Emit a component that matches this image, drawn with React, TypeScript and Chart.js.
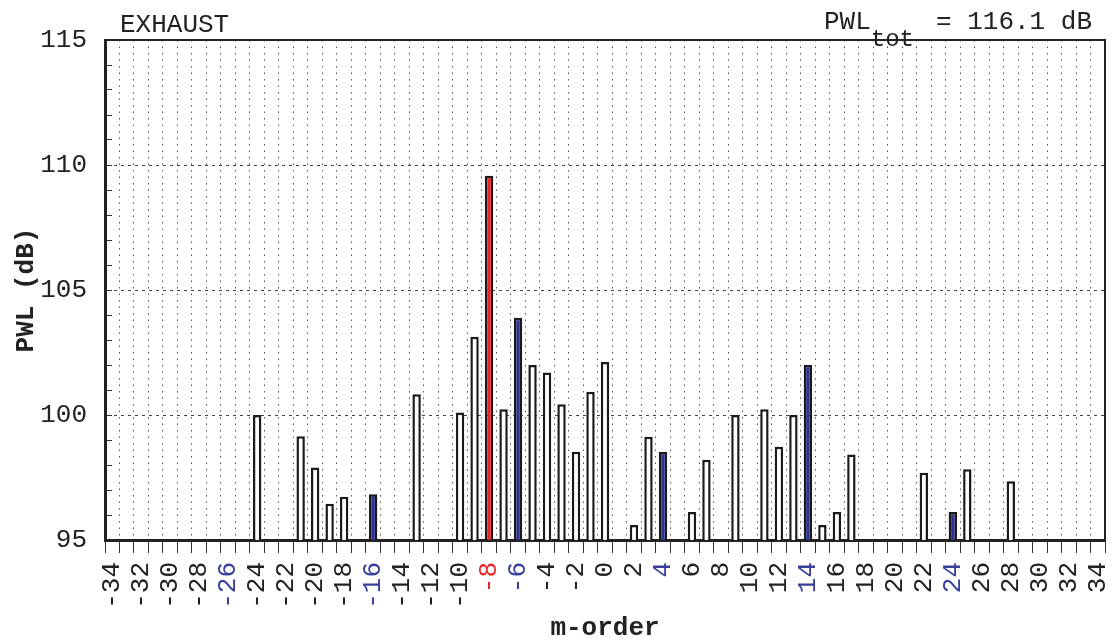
import React, { useEffect, useRef } from "react";
import { Chart, registerables } from "chart.js";

Chart.register(...registerables);

// ---- data ----
const mOrders: number[] = [];
for (let m = -34; m <= 34; m++) mOrders.push(m);

const barOrders = [-24, -21, -20, -19, -18, -16, -13, -10, -9, -8, -7, -6, -5, -4, -3, -2, -1, 0, 2, 3, 4, 6, 7, 9, 11, 12, 13, 14, 15, 16, 17, 22, 24, 25, 28];
const barLevels = [100.0, 99.15, 97.9, 96.45, 96.73, 96.83, 100.83, 100.1, 103.13, 109.57, 100.23, 103.89, 102.0, 101.7, 100.43, 98.53, 100.93, 102.12, 95.6, 99.13, 98.52, 96.12, 98.21, 100.0, 100.23, 98.73, 100.0, 102.0, 95.6, 96.12, 98.42, 97.69, 96.12, 97.83, 97.35];

const redOrders = [-8];
const blueOrders = [-26, -16, -6, 4, 14, 24];

const yMin = 95;
const yMax = 115;
const yMajorStep = 5;

const leftHeader = "EXHAUST";
const rightHeaderMain = "PWL";
const rightHeaderSub = "tot";
const rightHeaderRest = "= 116.1 dB";
const xTitle = "m-order";
const yTitle = "PWL (dB)";

// ---- styles ----
const FONT = "'Liberation Mono', 'DejaVu Sans Mono', monospace";
const INK = "#222222";
const RED = "#ee2226";
const BLUE = "#2e3192";
const BLUE_TEXT = "#3a3f9c";

const levelByOrder = new Map<number, number>();
barOrders.forEach((m, i) => levelByOrder.set(m, barLevels[i]));
const seriesData = mOrders.map((m) => (levelByOrder.has(m) ? (levelByOrder.get(m) as number) : null));

const fillFor = (m: number) => (redOrders.includes(m) ? RED : blueOrders.includes(m) ? BLUE : "#ffffff");
const labelColorFor = (m: number) => (redOrders.includes(m) ? RED : blueOrders.includes(m) ? BLUE_TEXT : INK);

const frameAndHeader = {
  id: "frameAndHeader",
  afterDraw(chart: any) {
    const { ctx, chartArea } = chart;
    const { left, top, right, bottom } = chartArea;
    ctx.save();
    ctx.strokeStyle = INK;
    ctx.lineWidth = 2;
    ctx.beginPath();
    ctx.moveTo(left, top);
    ctx.lineTo(right, top);
    ctx.lineTo(right, bottom);
    ctx.stroke();

    ctx.fillStyle = INK;
    ctx.textBaseline = "alphabetic";
    ctx.textAlign = "left";
    ctx.font = `26px ${FONT}`;
    ctx.fillText(leftHeader, left + 15, 32);

    const mainFont = `26px ${FONT}`;
    const subFont = `24px ${FONT}`;
    ctx.font = mainFont;
    const restW = ctx.measureText(rightHeaderRest).width;
    const xRest = right - 13 - restW;
    ctx.fillText(rightHeaderRest, xRest, 29);
    ctx.font = subFont;
    const subW = ctx.measureText(rightHeaderSub).width;
    const xSub = xRest - 22 - subW;
    ctx.fillText(rightHeaderSub, xSub, 46);
    ctx.font = mainFont;
    const mainW = ctx.measureText(rightHeaderMain).width;
    ctx.fillText(rightHeaderMain, xSub - mainW, 29);
    ctx.restore();
  },
};

export default function App() {
  const canvasRef = useRef<HTMLCanvasElement | null>(null);

  useEffect(() => {
    if (!canvasRef.current) return;
    const chart = new Chart(canvasRef.current, {
      type: "bar",
      data: {
        labels: mOrders.map(String),
        datasets: [
          {
            data: seriesData as any,
            backgroundColor: mOrders.map(fillFor),
            borderColor: "#1a1a1a",
            borderWidth: 2.5,
            categoryPercentage: 1,
            barPercentage: 0.58,
          },
        ],
      },
      options: {
        animation: false,
        responsive: true,
        maintainAspectRatio: false,
        layout: { padding: { left: 0, right: 9, top: 40, bottom: 0 } },
        plugins: {
          legend: { display: false },
          tooltip: { enabled: false },
        },
        scales: {
          x: {
            type: "category",
            offset: true,
            grid: {
              offset: true,
              color: "#555555",
              lineWidth: 1,
              drawTicks: true,
              tickLength: 13,
              tickColor: "#333333",
              tickWidth: 1,
            },
            border: { display: true, color: INK, width: 3, dash: [1.5, 5] },
            ticks: {
              autoSkip: false,
              minRotation: 90,
              maxRotation: 90,
              padding: 9,
              font: { family: FONT, size: 26 },
              color: (c: any) => labelColorFor(mOrders[c.index]),
              callback: (_v: any, i: number) => (mOrders[i] % 2 === 0 ? String(mOrders[i]) : ""),
            },
            title: {
              display: true,
              text: xTitle,
              color: INK,
              font: { family: FONT, size: 26, weight: "bold" },
              padding: { top: 0, bottom: 0 },
            },
            afterFit: (s: any) => {
              s.height = 104;
              s.paddingLeft = 0;
              s.paddingRight = 0;
            },
          },
          y: {
            type: "linear",
            min: yMin,
            max: yMax,
            grid: {
              color: (c: any) => {
                const v = c.tick ? c.tick.value : NaN;
                return v % yMajorStep === 0 && v !== yMin && v !== yMax ? "#444444" : "rgba(0,0,0,0)";
              },
              lineWidth: 1,
              drawTicks: true,
              tickLength: -7,
              tickColor: "#333333",
              tickWidth: 1,
            },
            border: { display: true, color: INK, width: 3, dash: [3, 4] },
            ticks: {
              stepSize: 1,
              autoSkip: false,
              maxTicksLimit: 50,
              padding: 25,
              color: INK,
              font: { family: FONT, size: 26 },
              callback: (v: any) => (Number(v) % yMajorStep === 0 ? String(v) : ""),
            },
            title: {
              display: true,
              text: yTitle,
              color: INK,
              font: { family: FONT, size: 26, weight: "bold" },
              padding: { top: 11, bottom: 0 },
            },
            afterFit: (s: any) => {
              s.width = 105;
              s.paddingTop = 0;
              s.paddingBottom = 0;
            },
          },
        },
      } as any,
      plugins: [frameAndHeader],
    });
    return () => chart.destroy();
  }, []);

  return (
    <div style={{ position: "fixed", left: 0, top: 0, width: 1114, height: 644, background: "#ffffff" }}>
      <canvas ref={canvasRef} />
    </div>
  );
}
